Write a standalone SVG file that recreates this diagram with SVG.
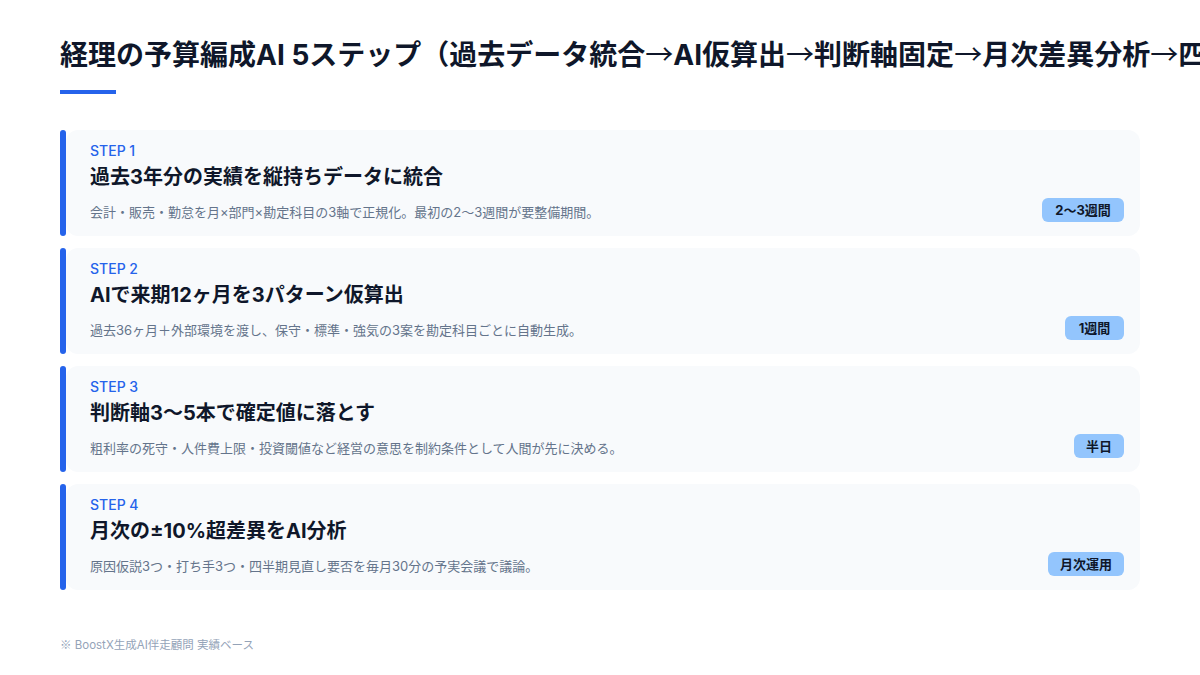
<svg xmlns="http://www.w3.org/2000/svg" width="1200" height="675" viewBox="0 0 1200 675">
<style>
text { font-family: Inter, "Noto Sans CJK JP", sans-serif; }
.title { font-size: 28px; font-weight: 700; fill: #0f172a; }
.arr { font-family: "Noto Sans CJK JP", sans-serif; font-weight: 400; }
.card { fill: #f8fafc; }
.bar { fill: #2563eb; }
.step { font-size: 14px; font-weight: 500; fill: #2563eb; }
.head { font-size: 20px; font-weight: 700; fill: #0f172a; }
.desc { font-size: 13px; font-weight: 400; fill: #64748b; }
.badge { fill: #93c5fd; }
.btext { font-size: 13px; font-weight: 700; fill: #0f172a; text-anchor: middle; }
.foot { font-size: 11.5px; fill: #94a3b8; }
.cjk { font-family: "Noto Sans CJK JP", sans-serif; }
</style>
<rect width="1200" height="675" fill="#ffffff"/>
<g id="header">
<text class="title" x="60" y="65">経理の予算編成AI 5ステップ（過去データ統合<tspan class="arr">→</tspan>AI仮算出<tspan class="arr">→</tspan>判断軸固定<tspan class="arr">→</tspan>月次差異分析<tspan class="arr">→</tspan>四半期見直し）</text>
<rect x="60" y="90" width="56" height="4" fill="#2563eb"/>
</g>
<g id="connectors"></g>
<g id="step1">
<rect class="card" x="66" y="130" width="1074" height="106" rx="12"/>
<rect class="bar" x="60" y="130" width="6" height="106" rx="3"/>
<text class="step" x="90" y="156">STEP 1</text>
<text class="head" x="90" y="184">過去3年分の実績を縦持ちデータに統合</text>
<text class="desc" x="90" y="217">会計・販売・勤怠を月×部門×勘定科目の3軸で正規化。最初の2〜3週間が要整備期間。</text>
<rect class="badge" x="1042" y="198" width="82" height="24" rx="6"/>
<text class="btext" x="1083" y="215">2〜3週間</text>
</g>
<g id="step2">
<rect class="card" x="66" y="248" width="1074" height="106" rx="12"/>
<rect class="bar" x="60" y="248" width="6" height="106" rx="3"/>
<text class="step" x="90" y="274">STEP 2</text>
<text class="head" x="90" y="302">AIで来期12ヶ月を3パターン仮算出</text>
<text class="desc" x="90" y="335">過去36ヶ月＋外部環境を渡し、保守・標準・強気の3案を勘定科目ごとに自動生成。</text>
<rect class="badge" x="1065" y="316" width="59" height="24" rx="6"/>
<text class="btext" x="1094.5" y="333">1週間</text>
</g>
<g id="step3">
<rect class="card" x="66" y="366" width="1074" height="106" rx="12"/>
<rect class="bar" x="60" y="366" width="6" height="106" rx="3"/>
<text class="step" x="90" y="392">STEP 3</text>
<text class="head" x="90" y="420">判断軸3〜5本で確定値に落とす</text>
<text class="desc" x="90" y="453">粗利率の死守・人件費上限・投資閾値など経営の意思を制約条件として人間が先に決める。</text>
<rect class="badge" x="1074" y="434" width="50" height="24" rx="6"/>
<text class="btext" x="1099" y="451">半日</text>
</g>
<g id="step4">
<rect class="card" x="66" y="484" width="1074" height="106" rx="12"/>
<rect class="bar" x="60" y="484" width="6" height="106" rx="3"/>
<text class="step" x="90" y="510">STEP 4</text>
<text class="head" x="90" y="538">月次の±10%超差異をAI分析</text>
<text class="desc" x="90" y="571">原因仮説3つ・打ち手3つ・四半期見直し要否を毎月30分の予実会議で議論。</text>
<rect class="badge" x="1048" y="552" width="76" height="24" rx="6"/>
<text class="btext" x="1086" y="569">月次運用</text>
</g>
<g id="footer">
<text class="foot" x="60" y="649"><tspan class="cjk">※</tspan> BoostX生成AI伴走顧問 実績ベース</text>
</g>
</svg>
